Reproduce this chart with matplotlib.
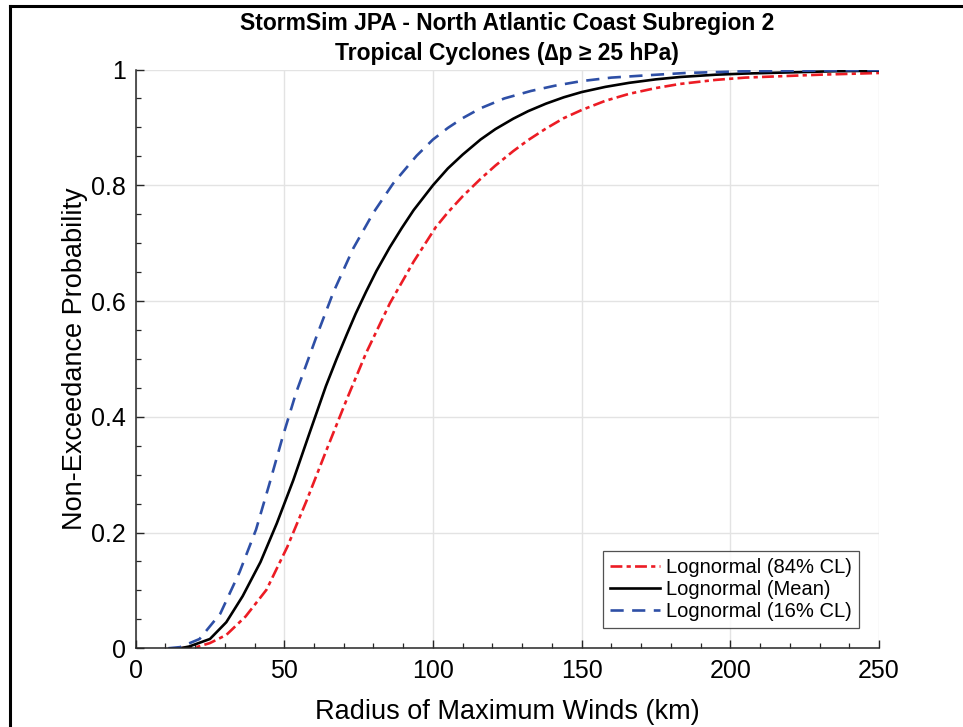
import numpy as np
import matplotlib.pyplot as plt
from matplotlib.ticker import MultipleLocator, FixedFormatter, FixedLocator
from matplotlib.lines import Line2D

plt.rcParams['font.family'] = ['Liberation Sans', 'DejaVu Sans']

# =====================================================
# Data
# =====================================================

# Lognormal (Mean)
x_mean = [15, 18, 25, 30.5, 36, 42, 47.5, 53, 58.5, 64, 67.6, 71, 74, 77.5,
          81, 85.5, 89.5, 93.5, 100, 105, 110, 116, 121, 127, 132, 138, 144,
          150, 158, 166, 175, 183, 195, 205, 220, 235, 250]
p_mean = [0, 0.003, 0.016, 0.045, 0.090, 0.149, 0.216, 0.290, 0.372, 0.453,
          0.500, 0.542, 0.578, 0.616, 0.652, 0.693, 0.726, 0.757, 0.800, 0.829,
          0.853, 0.879, 0.897, 0.915, 0.928, 0.941, 0.952, 0.961, 0.970, 0.977,
          0.983, 0.987, 0.991, 0.993, 0.995, 0.997, 0.998]

# Lognormal (16% CL)
x_lo = [11, 15, 21.5, 28.5, 35, 40.5, 45, 49.5, 54, 58.6, 61, 66.5, 73.2,
        79.9, 86.6, 94.5, 100, 105, 110, 116, 124, 133, 141, 150, 160, 172,
        185, 205, 225, 250]
p_lo = [0, 0.002, 0.016, 0.060, 0.132, 0.205, 0.284, 0.366, 0.442, 0.507,
        0.541, 0.615, 0.691, 0.752, 0.803, 0.851, 0.879, 0.899, 0.916, 0.933,
        0.950, 0.963, 0.972, 0.980, 0.986, 0.990, 0.994, 0.997, 0.998, 0.999]

# Lognormal (84% CL)
x_hi = [15, 20.5, 25, 30.5, 37, 44, 51, 57.5, 64, 71, 77.5, 85.5, 93.5, 101,
        105, 110, 116, 121, 127, 132, 138, 144, 150, 158, 166, 175, 183, 195,
        205, 230, 250]
p_hi = [0, 0.002, 0.009, 0.023, 0.055, 0.101, 0.175, 0.255, 0.340, 0.430,
        0.510, 0.596, 0.668, 0.728, 0.753, 0.781, 0.811, 0.834, 0.859, 0.878,
        0.898, 0.916, 0.930, 0.946, 0.958, 0.968, 0.975, 0.982, 0.986, 0.991,
        0.994]

title_lines = ["StormSim JPA - North Atlantic Coast Subregion 2",
               "Tropical Cyclones (\u2206p \u2265 25 hPa)"]

red = '#ec1c24'
blue = '#2e4fa6'
axcol = '#262626'

# =====================================================
# Figure
# =====================================================

fig = plt.figure(figsize=(9.63, 7.27), dpi=100)
ax = fig.add_axes([0.1408, 0.1083, 0.7720, 0.7961])

ax.plot(x_hi, p_hi, color=red, lw=1.9, dashes=(4.5, 1.6, 1.6, 1.6),
        label='Lognormal (84% CL)')
ax.plot(x_mean, p_mean, color='k', lw=1.9, label='Lognormal (Mean)')
ax.plot(x_lo, p_lo, color=blue, lw=1.9, dashes=(5.0, 3.2),
        label='Lognormal (16% CL)')

ax.set_xlim(0, 250)
ax.set_ylim(0, 1)
ax.xaxis.set_major_locator(MultipleLocator(50))
ax.xaxis.set_minor_locator(MultipleLocator(10))
ax.yaxis.set_major_locator(FixedLocator([0, 0.2, 0.4, 0.6, 0.8, 1]))
ax.yaxis.set_major_formatter(FixedFormatter(['0', '0.2', '0.4', '0.6', '0.8', '1']))
ax.yaxis.set_minor_locator(MultipleLocator(0.05))

ax.tick_params(which='both', direction='in', colors=axcol, labelcolor='k',
               labelsize=18, top=False, right=False)
ax.tick_params(which='major', length=6, width=1)
ax.tick_params(which='minor', length=3.5, width=0.9)
ax.tick_params(axis='x', pad=8)
ax.tick_params(axis='y', pad=7)

ax.grid(True, which='major', color='#e3e3e3', lw=1)
ax.set_axisbelow(True)
for s in ['top', 'right']:
    ax.spines[s].set_visible(False)
for s in ['left', 'bottom']:
    ax.spines[s].set_color(axcol)
    ax.spines[s].set_linewidth(1.1)

ax.set_xlabel('Radius of Maximum Winds (km)', fontsize=19.5, labelpad=11)
ax.set_ylabel('Non-Exceedance Probability', fontsize=19.5, labelpad=2)
ax.set_title(title_lines[0] + '\n' + title_lines[1], fontsize=16.5,
             fontweight='bold', linespacing=1.35, pad=7)

leg = ax.legend(loc='lower right', fontsize=14.5, frameon=True, fancybox=False,
                handlelength=2.5, handletextpad=0.3, borderpad=0.35,
                labelspacing=0.15, borderaxespad=1.0)
leg.get_frame().set_edgecolor(axcol)
leg.get_frame().set_linewidth(0.9)

# outer frame lines (left and top)
fig.add_artist(Line2D([10 / 963, 10 / 963], [0, 1 - 6 / 727], color='k', lw=2.2,
                      transform=fig.transFigure))
fig.add_artist(Line2D([10 / 963, 1], [1 - 6 / 727, 1 - 6 / 727], color='k', lw=2.2,
                      transform=fig.transFigure))

fig.savefig('out.png', dpi=100)
